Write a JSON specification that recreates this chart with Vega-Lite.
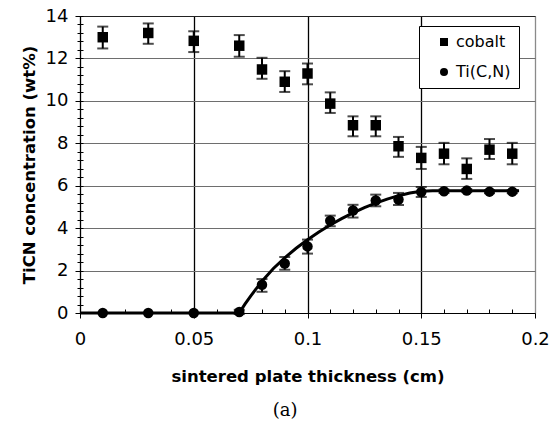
{
  "$schema": "https://vega.github.io/schema/vega-lite/v6.json",
  "width": 455,
  "height": 297,
  "autosize": {"type": "none"},
  "padding": {"left": 80, "top": 16, "right": 22, "bottom": 116},
  "title": {
    "text": "(a)",
    "orient": "bottom",
    "anchor": "middle",
    "frame": "bounds",
    "font": "DejaVu Serif",
    "fontSize": 18,
    "fontWeight": "normal",
    "color": "black",
    "offset": 17
  },
  "config": {
    "view": {"stroke": "#808080", "strokeWidth": 1},
    "font": "DejaVu Sans"
  },
  "datasets": {
    "measured": [
      {"series": "cobalt", "x": 0.01, "y": 13.0, "lo": 12.47, "hi": 13.5},
      {"series": "cobalt", "x": 0.03, "y": 13.2, "lo": 12.69, "hi": 13.65},
      {"series": "cobalt", "x": 0.05, "y": 12.83, "lo": 12.3, "hi": 13.28},
      {"series": "cobalt", "x": 0.07, "y": 12.6, "lo": 12.08, "hi": 13.1},
      {"series": "cobalt", "x": 0.08, "y": 11.48, "lo": 11.04, "hi": 12.03},
      {"series": "cobalt", "x": 0.09, "y": 10.9, "lo": 10.42, "hi": 11.4},
      {"series": "cobalt", "x": 0.1, "y": 11.29, "lo": 10.78, "hi": 11.76},
      {"series": "cobalt", "x": 0.11, "y": 9.87, "lo": 9.43, "hi": 10.4},
      {"series": "cobalt", "x": 0.12, "y": 8.85, "lo": 8.33, "hi": 9.27},
      {"series": "cobalt", "x": 0.13, "y": 8.85, "lo": 8.33, "hi": 9.27},
      {"series": "cobalt", "x": 0.14, "y": 7.86, "lo": 7.36, "hi": 8.3},
      {"series": "cobalt", "x": 0.15, "y": 7.31, "lo": 6.79, "hi": 7.83},
      {"series": "cobalt", "x": 0.16, "y": 7.51, "lo": 7.01, "hi": 8.02},
      {"series": "cobalt", "x": 0.17, "y": 6.79, "lo": 6.32, "hi": 7.29},
      {"series": "cobalt", "x": 0.18, "y": 7.7, "lo": 7.26, "hi": 8.2},
      {"series": "cobalt", "x": 0.19, "y": 7.51, "lo": 7.01, "hi": 8.02},
      {"series": "Ti(C,N)", "x": 0.01, "y": 0.0, "lo": 0.0, "hi": 0.0},
      {"series": "Ti(C,N)", "x": 0.03, "y": 0.0, "lo": 0.0, "hi": 0.0},
      {"series": "Ti(C,N)", "x": 0.05, "y": 0.0, "lo": 0.0, "hi": 0.0},
      {"series": "Ti(C,N)", "x": 0.07, "y": 0.05, "lo": -0.05, "hi": 0.15},
      {"series": "Ti(C,N)", "x": 0.08, "y": 1.33, "lo": 1.0, "hi": 1.6},
      {"series": "Ti(C,N)", "x": 0.09, "y": 2.33, "lo": 2.04, "hi": 2.64},
      {"series": "Ti(C,N)", "x": 0.1, "y": 3.14, "lo": 2.8, "hi": 3.46},
      {"series": "Ti(C,N)", "x": 0.11, "y": 4.35, "lo": 4.09, "hi": 4.59},
      {"series": "Ti(C,N)", "x": 0.12, "y": 4.83, "lo": 4.5, "hi": 5.1},
      {"series": "Ti(C,N)", "x": 0.13, "y": 5.3, "lo": 5.03, "hi": 5.58},
      {"series": "Ti(C,N)", "x": 0.14, "y": 5.35, "lo": 5.09, "hi": 5.66},
      {"series": "Ti(C,N)", "x": 0.15, "y": 5.7, "lo": 5.47, "hi": 5.94},
      {"series": "Ti(C,N)", "x": 0.16, "y": 5.74, "lo": 5.66, "hi": 5.82},
      {"series": "Ti(C,N)", "x": 0.17, "y": 5.77, "lo": 5.7, "hi": 5.84},
      {"series": "Ti(C,N)", "x": 0.18, "y": 5.72, "lo": 5.65, "hi": 5.79},
      {"series": "Ti(C,N)", "x": 0.19, "y": 5.72, "lo": 5.65, "hi": 5.79}
    ],
    "fit": [
      {"x": 0.0, "y": 0.0},
      {"x": 0.07, "y": 0.0},
      {"x": 0.0725, "y": 0.42},
      {"x": 0.075, "y": 0.8},
      {"x": 0.08, "y": 1.5},
      {"x": 0.085, "y": 2.1},
      {"x": 0.09, "y": 2.6},
      {"x": 0.095, "y": 3.05},
      {"x": 0.1, "y": 3.45},
      {"x": 0.105, "y": 3.82},
      {"x": 0.11, "y": 4.15},
      {"x": 0.115, "y": 4.45},
      {"x": 0.12, "y": 4.72},
      {"x": 0.125, "y": 4.97},
      {"x": 0.13, "y": 5.18},
      {"x": 0.135, "y": 5.37},
      {"x": 0.14, "y": 5.53},
      {"x": 0.145, "y": 5.66},
      {"x": 0.15, "y": 5.74},
      {"x": 0.155, "y": 5.76},
      {"x": 0.193, "y": 5.76}
    ]
  },
  "layer": [
    {
      "data": {"name": "fit"},
      "mark": {"type": "line", "opacity": 0},
      "encoding": {
        "x": {
          "field": "x", "type": "quantitative",
          "scale": {"domain": [0, 0.2], "nice": false, "zero": false},
          "axis": {
            "orient": "bottom", "title": null, "labels": false, "domain": false, "grid": false,
            "values": [0.01, 0.02, 0.03, 0.04, 0.06, 0.07, 0.08, 0.09, 0.11, 0.12, 0.13, 0.14, 0.16, 0.17, 0.18, 0.19],
            "tickSize": -4, "tickColor": "black", "tickWidth": 1
          }
        },
        "y": {
          "field": "y", "type": "quantitative",
          "scale": {"domain": [0, 14], "nice": false},
          "axis": {
            "orient": "left", "title": null, "labels": false, "domain": false, "grid": false,
            "values": [0, 0.4, 0.8, 1.2, 1.6, 2, 2.4, 2.8, 3.2, 3.6, 4, 4.4, 4.8, 5.2, 5.6, 6, 6.4, 6.8, 7.2, 7.6, 8, 8.4, 8.8, 9.2, 9.6, 10, 10.4, 10.8, 11.2, 11.6, 12, 12.4, 12.8, 13.2, 13.6, 14],
            "tickSize": -3, "tickColor": "black", "tickWidth": 1
          }
        }
      }
    },
    {
      "data": {"name": "fit"},
      "mark": {"type": "line", "opacity": 0},
      "encoding": {
        "x": {"field": "x", "type": "quantitative", "axis": null},
        "y": {
          "field": "y", "type": "quantitative",
          "axis": {
            "orient": "left", "title": null, "labels": false, "domain": false, "grid": false,
            "values": [0.4, 0.8, 1.2, 1.6, 2.4, 2.8, 3.2, 3.6, 4.4, 4.8, 5.2, 5.6, 6.4, 6.8, 7.2, 7.6, 8.4, 8.8, 9.2, 9.6, 10.4, 10.8, 11.2, 11.6, 12.4, 12.8, 13.2, 13.6],
            "tickSize": 3, "tickColor": "black", "tickWidth": 1
          }
        }
      }
    },
    {
      "data": {"name": "fit"},
      "mark": {"type": "line", "color": "black", "strokeWidth": 3, "interpolate": "linear"},
      "encoding": {
        "x": {
          "field": "x", "type": "quantitative",
          "axis": {
            "orient": "bottom",
            "title": "sintered plate thickness (cm)",
            "titleFont": "DejaVu Sans", "titleFontSize": 16.5, "titleFontWeight": "bold", "titleColor": "black",
            "titlePadding": 20,
            "values": [0, 0.05, 0.1, 0.15, 0.2],
            "format": "~g",
            "labelFont": "DejaVu Sans", "labelFontSize": 18, "labelColor": "black", "labelPadding": 12,
            "labelFlush": false, "labelOverlap": false,
            "tickSize": 5, "tickColor": "black", "tickWidth": 1,
            "domainColor": "black", "domainWidth": 1,
            "grid": true,
            "gridColor": {"condition": {"test": "datum.value >= 0.2", "value": "#8a8a8a"}, "value": "black"},
            "gridWidth": 1.3
          }
        },
        "y": {
          "field": "y", "type": "quantitative",
          "axis": {
            "orient": "left",
            "title": "TiCN concentration (wt%)",
            "titleFont": "DejaVu Sans", "titleFontSize": 16.5, "titleFontWeight": "bold", "titleColor": "black",
            "titlePadding": 8,
            "values": [0, 2, 4, 6, 8, 10, 12, 14],
            "labelFont": "DejaVu Sans", "labelFontSize": 18, "labelColor": "black", "labelPadding": 7,
            "labelFlush": false, "labelOverlap": false,
            "tickSize": 5, "tickColor": "black", "tickWidth": 1,
            "domainColor": "black", "domainWidth": 1,
            "grid": true,
            "gridColor": {"condition": {"test": "datum.value >= 14", "value": "#222222"}, "value": "#6e6e6e"},
            "gridWidth": 1.2
          }
        }
      }
    },
    {
      "data": {"name": "measured"},
      "mark": {
        "type": "errorbar",
        "rule": {"color": "black", "strokeWidth": 2},
        "ticks": {"size": 11, "thickness": 2, "color": "black"}
      },
      "encoding": {
        "x": {"field": "x", "type": "quantitative", "axis": null},
        "y": {"field": "lo", "type": "quantitative", "axis": null},
        "y2": {"field": "hi"}
      }
    },
    {
      "data": {"name": "measured"},
      "mark": {"type": "point", "filled": true, "color": "black", "opacity": 1, "size": 110},
      "encoding": {
        "x": {"field": "x", "type": "quantitative", "axis": null},
        "y": {"field": "y", "type": "quantitative", "axis": null},
        "shape": {
          "field": "series", "type": "nominal",
          "scale": {"domain": ["cobalt", "Ti(C,N)"], "range": ["square", "circle"]},
          "legend": {
            "orient": "none", "legendX": 339, "legendY": 10,
            "title": null,
            "strokeColor": "black", "fillColor": "white",
            "padding": 8,
            "symbolSize": 64, "symbolOffset": 9,
            "symbolFillColor": "black", "symbolStrokeColor": "black", "symbolStrokeWidth": 0,
            "labelFont": "DejaVu Sans", "labelFontSize": 16, "labelColor": "black", "labelOffset": 4,
            "rowPadding": 14
          }
        }
      }
    }
  ],
  "resolve": {"axis": {"x": "independent", "y": "independent"}}
}
